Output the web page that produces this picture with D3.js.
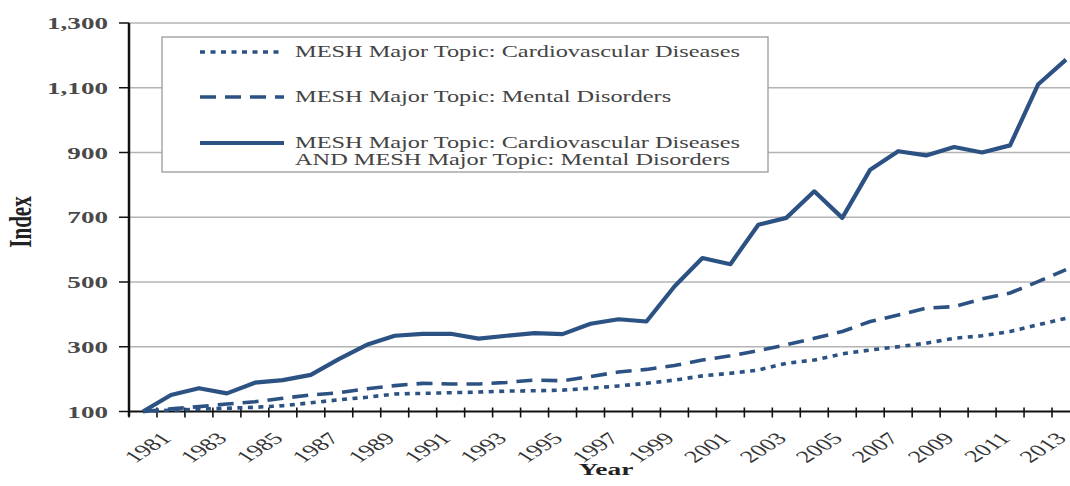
<!DOCTYPE html>
<html>
<head>
<meta charset="utf-8">
<script src="https://cdn.jsdelivr.net/npm/d3@7"></script>
<style>
  body { margin: 0; background: #fff; }
  text { font-family: "Liberation Serif", "Times New Roman", serif; }
</style>
</head>
<body>
<script>
const years = [1980, 1981, 1982, 1983, 1984, 1985, 1986, 1987, 1988, 1989, 1990, 1991,
    1992, 1993, 1994, 1995, 1996, 1997, 1998, 1999, 2000, 2001, 2002, 2003, 2004, 2005,
    2006, 2007, 2008, 2009, 2010, 2011, 2012, 2013];

const cardio = [100, 104, 107, 110, 113, 118, 127, 136, 144, 154, 156, 158, 160, 163, 164,
    166, 172, 179, 187, 197, 210, 218, 228, 249, 259, 278, 290, 300, 311, 326, 334, 347, 368, 388];

const mental = [100, 108, 115, 123, 130, 141, 151, 158, 170, 180, 187, 185, 185, 190, 197,
    195, 208, 222, 230, 242, 259, 272, 288, 306, 326, 347, 378, 398, 419, 424, 448, 466, 501, 538];

const both = [100, 151, 172, 156, 189, 197, 213, 262, 306, 334, 340, 340, 325, 334, 342,
    339, 371, 385, 378, 486, 574, 555, 677, 698, 780, 698, 847, 904, 891, 917, 900, 922, 1110, 1187];

const yTicks = [100, 300, 500, 700, 900, 1100, 1300];

const seriesNames = [
    ["MESH Major Topic: Cardiovascular Diseases"],
    ["MESH Major Topic: Mental Disorders"],
    ["MESH Major Topic: Cardiovascular Diseases", "AND MESH Major Topic: Mental Disorders"]
];

const width = 1070;
const height = 486;
const plotLeft = 129;
const plotRight = 1080;
const plotTop = 23;
const plotBottom = 411.5;
const sx = 1.55; // text in the source is stretched sideways
const blue = "#2c5283";

const series = [
    { values: cardio, dash: "5,5.5", sw: 3.6 },
    { values: mental, dash: "16,9", sw: 3.6 },
    { values: both, dash: null, sw: 4.2 }
];

const svg = d3.select("body").append("svg")
    .attr("width", width)
    .attr("height", height);

const x = d3.scaleBand()
    .domain(years)
    .range([plotLeft, plotRight]);

const y = d3.scaleLinear()
    .domain([100, 1300])
    .range([plotBottom, plotTop]);

// gridlines
svg.append("g")
    .selectAll("line")
    .data(yTicks.slice(1))
    .enter()
    .append("line")
    .attr("x1", plotLeft)
    .attr("x2", width)
    .attr("y1", d => y(d))
    .attr("y2", d => y(d))
    .attr("stroke", "#b4b4b4")
    .attr("stroke-width", 1.5);

// y axis
const yAxis = svg.append("g");
yAxis.append("line")
    .attr("x1", plotLeft).attr("x2", plotLeft)
    .attr("y1", y(1300)).attr("y2", plotBottom + 5)
    .attr("stroke", "#111").attr("stroke-width", 2.5);

yAxis.selectAll(".tick")
    .data(yTicks)
    .enter()
    .append("line")
    .attr("x1", plotLeft - 10).attr("x2", plotLeft)
    .attr("y1", d => y(d)).attr("y2", d => y(d))
    .attr("stroke", "#111").attr("stroke-width", 1.5);

yAxis.selectAll("text")
    .data(yTicks)
    .enter()
    .append("text")
    .attr("transform", d => `translate(108,${y(d) + 6}) scale(${sx},1)`)
    .attr("text-anchor", "end")
    .style("font-size", "17.5px")
    .style("font-weight", "bold")
    .attr("fill", "#4a4a4a")
    .text(d => d3.format(",")(d));

// x axis
const xAxis = svg.append("g");
xAxis.append("line")
    .attr("x1", plotLeft).attr("x2", plotRight)
    .attr("y1", plotBottom).attr("y2", plotBottom)
    .attr("stroke", "#111").attr("stroke-width", 2.2);

xAxis.selectAll(".tick")
    .data(years.concat([null]))
    .enter()
    .append("line")
    .attr("x1", d => d === null ? plotRight : x(d))
    .attr("x2", d => d === null ? plotRight : x(d))
    .attr("y1", plotBottom - 4).attr("y2", plotBottom + 6)
    .attr("stroke", "#111").attr("stroke-width", 1.6);

xAxis.selectAll("text")
    .data(years.filter(d => d % 2 === 1))
    .enter()
    .append("text")
    .attr("transform", d => `translate(${x(d) + x.bandwidth() / 2 + 1.5},${plotBottom + 28}) scale(${sx},1) rotate(-45)`)
    .attr("text-anchor", "end")
    .style("font-size", "17px")
    .attr("fill", "#333")
    .text(d => d);

// axis titles
svg.append("text")
    .attr("transform", `translate(606,475) scale(${sx},1)`)
    .attr("text-anchor", "middle")
    .style("font-size", "17.7px")
    .style("font-weight", "bold")
    .attr("fill", "#222")
    .text("Year");

svg.append("text")
    .attr("transform", `translate(31,222) scale(${sx},1) rotate(-90)`)
    .attr("text-anchor", "middle")
    .style("font-size", "21px")
    .style("font-weight", "bold")
    .attr("fill", "#222")
    .text("Index");

// lines
const line = d3.line()
    .x((d, i) => x(years[i]) + x.bandwidth() / 2)
    .y(d => y(d));

svg.append("g")
    .selectAll("path")
    .data(series)
    .enter()
    .append("path")
    .attr("d", d => line(d.values))
    .attr("fill", "none")
    .attr("stroke", blue)
    .attr("stroke-width", d => d.sw)
    .attr("stroke-dasharray", d => d.dash)
    .attr("stroke-linejoin", "round");

// legend
const legend = svg.append("g");
legend.append("rect")
    .attr("x", 162).attr("y", 37)
    .attr("width", 606).attr("height", 135)
    .attr("fill", "#fff")
    .attr("stroke", "#9a9a9a")
    .attr("stroke-width", 1.3);

const legendY = [52, 97, 143];

legend.selectAll(".sample")
    .data(series)
    .enter()
    .append("line")
    .attr("x1", 200).attr("x2", 284)
    .attr("y1", (d, i) => legendY[i]).attr("y2", (d, i) => legendY[i])
    .attr("stroke", blue)
    .attr("stroke-width", d => d.sw)
    .attr("stroke-dasharray", d => d.dash);

seriesNames.forEach((lines, i) => {
    lines.forEach((t, j) => {
        legend.append("text")
            .attr("transform", `translate(295,${legendY[i] + 5 + j * 17}) scale(${sx},1)`)
            .style("font-size", "15.7px")
            .attr("fill", "#444")
            .text(t);
    });
});
</script>
</body>
</html>
